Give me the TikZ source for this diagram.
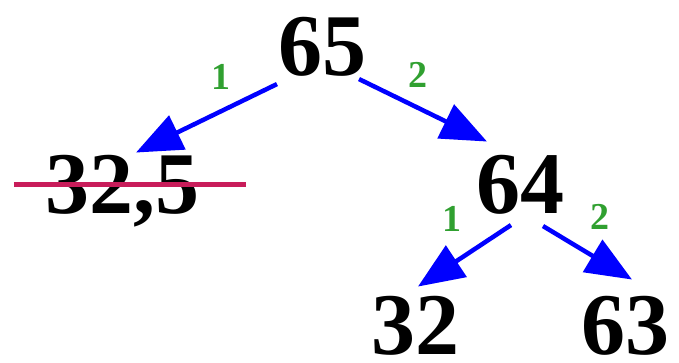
\documentclass[tikz,border=0pt]{standalone}
\usepackage{fontspec}
\setmainfont{Liberation Serif}
\usetikzlibrary{arrows.meta}
\definecolor{lblgreen}{RGB}{48,160,48}
\definecolor{strikered}{RGB}{200,28,90}
\definecolor{arrblue}{RGB}{0,0,255}
\begin{document}
\begin{tikzpicture}[x=1pt,y=-1pt,
  num/.style={font=\fontsize{88}{88}\selectfont\bfseries, inner sep=0pt, anchor=base},
  lbl/.style={font=\fontsize{38}{38}\selectfont\bfseries, text=lblgreen, inner sep=0pt},
  arr/.style={draw=arrblue, line width=4.5pt, -{Triangle[length=46pt,width=37pt]}},
  strikeline/.style={draw=strikered, line width=4.5pt}]
\useasboundingbox (0,0) rectangle (679,362);
\node[num] (n65) at (322,75) {65};
\node[num] (n325) at (122,213) {32,5};
\node[num] (n64) at (520,213) {64};
\node[num] (n32) at (415,354) {32};
\node[num] (n63) at (625,354) {63};
\node[lbl] (l1) at (221,77) {1};
\node[lbl] (l2) at (418,75) {2};
\node[lbl] (l3) at (452,219) {1};
\node[lbl] (l4) at (600,217) {2};
\draw[arr] ([xshift=-45pt,yshift=-8pt]n65.south) -- ([xshift=14pt,yshift=2pt]n325.north);
\draw[arr] ([xshift=37pt,yshift=-3pt]n65.south) -- ([xshift=-33pt,yshift=13pt]n64.north);
\draw[arr] ([xshift=-9pt,yshift=-11pt]n64.south) -- ([xshift=3pt,yshift=9pt]n32.north);
\draw[arr] ([xshift=23pt,yshift=-12pt]n64.south) -- ([xshift=7pt,yshift=16pt]n63.north);
\draw[strikeline] ([xshift=-31pt,yshift=6pt]n325.west) -- ([xshift=47pt,yshift=6pt]n325.east);
\end{tikzpicture}
\end{document}
